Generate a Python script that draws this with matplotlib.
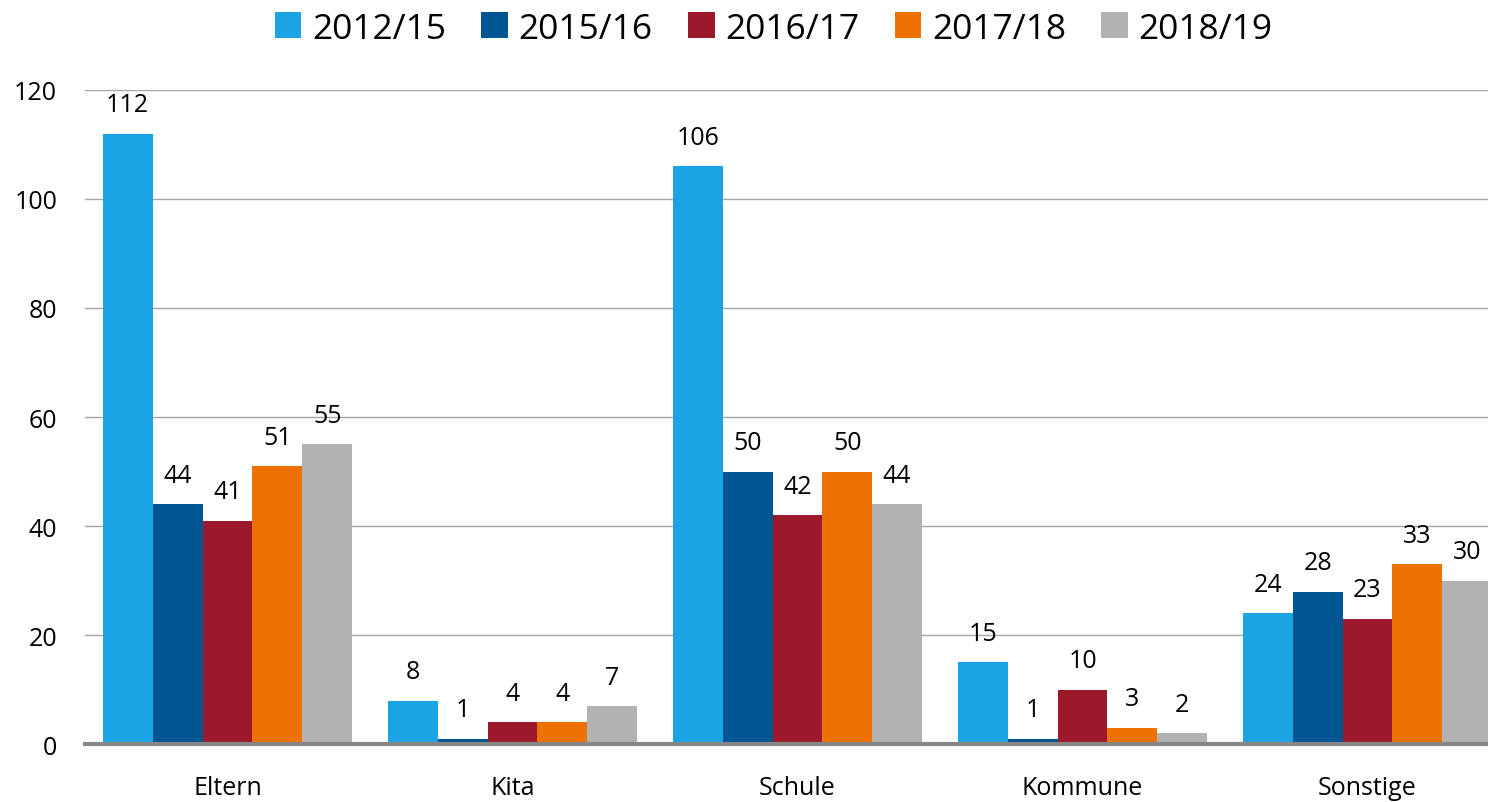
import matplotlib
matplotlib.use("Agg")
import matplotlib.pyplot as plt
import numpy as np

plt.rcParams['font.family'] = ['Open Sans', 'DejaVu Sans']

# data
categories = ['Eltern', 'Kita', 'Schule', 'Kommune', 'Sonstige']
series_names = ['2012/15', '2015/16', '2016/17', '2017/18', '2018/19']
values = {
    '2012/15': [112, 8, 106, 15, 24],
    '2015/16': [44, 1, 50, 1, 28],
    '2016/17': [41, 4, 42, 10, 23],
    '2017/18': [51, 4, 50, 3, 33],
    '2018/19': [55, 7, 44, 2, 30],
}
colors = ['#1ba4e3', '#015593', '#9c192c', '#ee7203', '#b3b2b2']

fig = plt.figure(figsize=(14.88, 8.03), dpi=100)
# plot area runs a little past the right edge, as in the original
ax = fig.add_axes([0.0571, 0.072, 0.9577, 0.8148])

x = np.arange(len(categories))
bw = 0.175
for i, name in enumerate(series_names):
    pos = x + (i - 2) * bw
    bars = ax.bar(pos, values[name], width=bw, color=colors[i], label=name, zorder=3)
    for b, v in zip(bars, values[name]):
        ax.text(b.get_x() + b.get_width() / 2, v + 3, str(v),
                ha='center', va='bottom', fontsize=18)

ax.set_xlim(-0.5, len(categories) - 0.5)
ax.set_ylim(0, 120)
ax.set_yticks(range(0, 121, 20))
ax.set_xticks(x)
ax.set_xticklabels(categories)
ax.tick_params(axis='both', length=0, labelsize=18)
ax.tick_params(axis='y', pad=20)
ax.tick_params(axis='x', pad=22)
ax.yaxis.grid(True, color='#a6a6a6', linewidth=1, zorder=0)
for s in ['top', 'right', 'left']:
    ax.spines[s].set_visible(False)
ax.spines['bottom'].set_color('#878787')
ax.spines['bottom'].set_linewidth(3)
ax.spines['bottom'].set_zorder(4)

fig.legend(loc='upper center', bbox_to_anchor=(0.52, 1.024), ncol=5, frameon=False,
           fontsize=25.5, handlelength=0.75, handleheight=0.75, handletextpad=0.3,
           columnspacing=1.0)

fig.savefig('out.png', dpi=100)
